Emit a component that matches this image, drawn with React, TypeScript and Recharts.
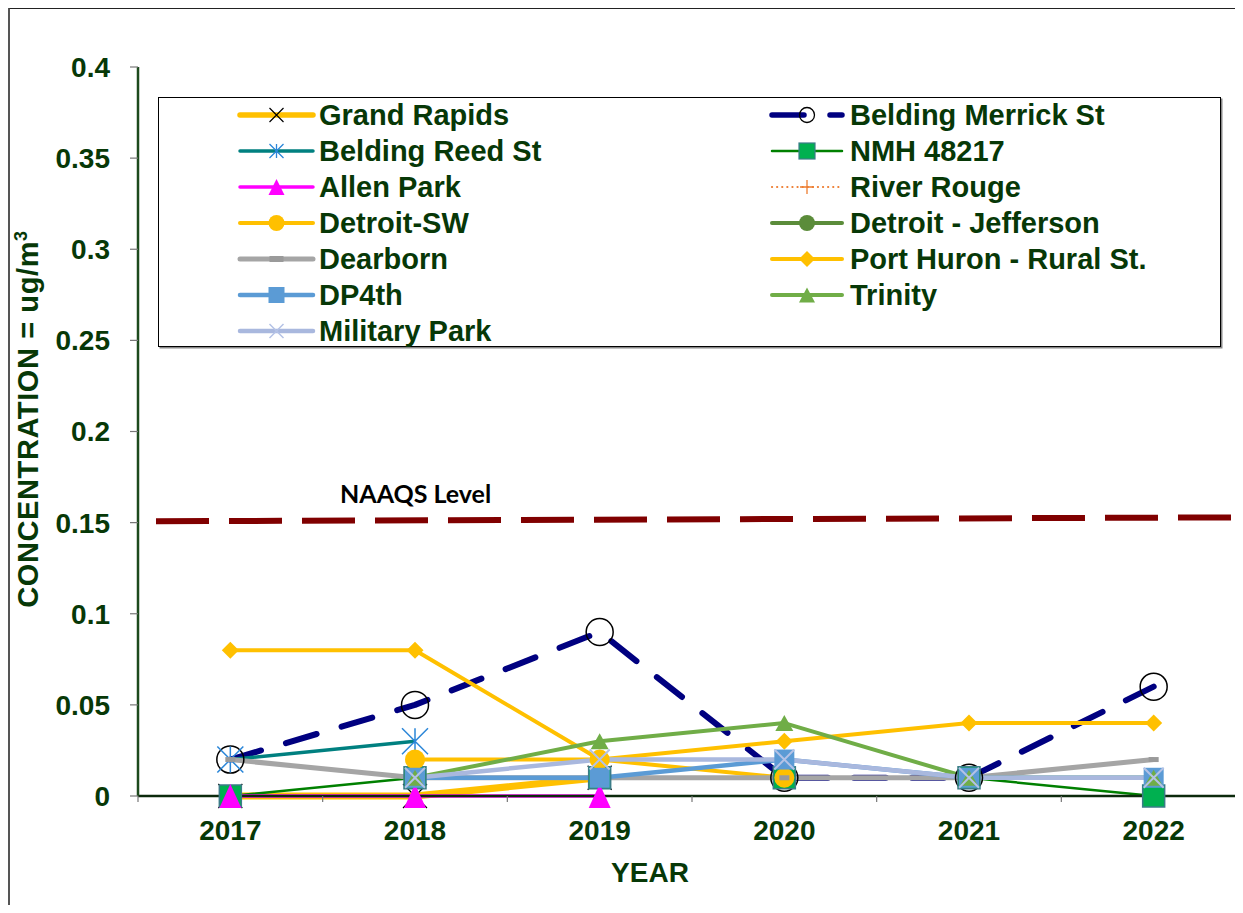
import React from 'react';
import { LineChart, Line, XAxis, YAxis, ReferenceLine, Legend, Label } from 'recharts';

// ---------- data ----------
const years = [2017, 2018, 2019, 2020, 2021, 2022];
const yTicks = [0, 0.05, 0.1, 0.15, 0.2, 0.25, 0.3, 0.35, 0.4];
const yTickLabels = ['0', '0.05', '0.1', '0.15', '0.2', '0.25', '0.3', '0.35', '0.4'];

const grandRapids = [0, 0, 0.01, null, null, null];
const beldingMerrick = [0.02, 0.05, 0.09, 0.01, 0.01, 0.06];
const beldingReed = [0.02, 0.03, null, null, null, null];
const nmh48217 = [0, 0.01, 0.01, 0.01, 0.01, 0];
const allenPark = [0, 0, 0, null, null, null];
const riverRouge = [null, null, null, 0.01, 0.01, 0.01];
const detroitSW = [null, 0.02, 0.02, 0.01, null, null];
const detroitJefferson = [null, null, null, null, 0.01, null];
const dearborn = [0.02, 0.01, 0.01, 0.01, 0.01, 0.02];
const portHuron = [0.08, 0.08, 0.02, 0.03, 0.04, 0.04];
const dp4th = [null, 0.01, 0.01, 0.02, 0.01, 0.01];
const trinity = [null, 0.01, 0.03, 0.04, 0.01, 0.01];
const militaryPark = [null, 0.01, 0.02, 0.02, 0.01, 0.01];

const naaqsLevel = [0.1507, 0.1529];
const naaqsLabel = 'NAAQS Level';

// ---------- layout constants ----------
const FONT = '"Liberation Sans", Arial, sans-serif';
const TEXT_GREEN = '#073807';
const CHART_W = 1250;
const CHART_H = 897;
const MARGIN = { top: 59, right: 12, left: 0, bottom: 9 };
const Y_AXIS_W = 130;
const X_AXIS_H = 100;
const PLOT_W = CHART_W - MARGIN.left - MARGIN.right - Y_AXIS_W;
const HALF_BAND = PLOT_W / years.length / 2;

type MarkerSpec = {
  kind: 'x' | 'asterisk' | 'plus' | 'square' | 'triangle' | 'circle' | 'diamond' | 'dash' | 'none';
  w: number;
  h?: number;
  fill?: string;
  stroke?: string;
  sw?: number;
};

function drawMarker(cx: number, cy: number, m: MarkerSpec, key?: any) {
  const s = m.w / 2;
  const hh = (m.h ?? m.w) / 2;
  switch (m.kind) {
    case 'x':
      return (
        <path key={key} d={`M${cx - s},${cy - s}L${cx + s},${cy + s}M${cx - s},${cy + s}L${cx + s},${cy - s}`}
          stroke={m.stroke} strokeWidth={m.sw ?? 1.2} fill="none" />
      );
    case 'asterisk':
      return (
        <path key={key} d={`M${cx - s},${cy - s}L${cx + s},${cy + s}M${cx - s},${cy + s}L${cx + s},${cy - s}M${cx},${cy - s}L${cx},${cy + s}`}
          stroke={m.stroke} strokeWidth={m.sw ?? 1.2} fill="none" />
      );
    case 'plus':
      return (
        <path key={key} d={`M${cx - s},${cy}L${cx + s},${cy}M${cx},${cy - s}L${cx},${cy + s}`}
          stroke={m.stroke} strokeWidth={m.sw ?? 1.2} fill="none" />
      );
    case 'square':
      return <rect key={key} x={cx - s} y={cy - s} width={m.w} height={m.w} fill={m.fill} stroke={m.stroke ?? 'none'} strokeWidth={m.sw ?? 0} />;
    case 'triangle':
      return (
        <path key={key} d={`M${cx},${cy - hh}L${cx + s},${cy + hh}L${cx - s},${cy + hh}Z`} fill={m.fill} stroke={m.stroke ?? 'none'} strokeWidth={m.sw ?? 0} />
      );
    case 'circle':
      return <circle key={key} cx={cx} cy={cy} r={s} fill={m.fill ?? 'none'} stroke={m.stroke ?? 'none'} strokeWidth={m.sw ?? 0} />;
    case 'diamond':
      return <path key={key} d={`M${cx},${cy - hh}L${cx + s},${cy}L${cx},${cy + hh}L${cx - s},${cy}Z`} fill={m.fill} />;
    case 'dash':
      return <rect key={key} x={cx - s} y={cy - hh} width={m.w} height={hh * 2} fill={m.fill} />;
    default:
      return <g key={key} />;
  }
}

type Series = {
  key: string;
  name: string;
  values: (number | null)[];
  color: string;
  width: number;
  dash?: string;
  cap?: 'round' | 'butt';
  marker: MarkerSpec;
  legendMarker: MarkerSpec;
};

const series: Series[] = [
  { key: 'gr', name: 'Grand Rapids', values: grandRapids, color: '#FFC000', width: 7, cap: 'round',
    marker: { kind: 'x', w: 24, stroke: '#000', sw: 1.2 }, legendMarker: { kind: 'x', w: 14, stroke: '#000', sw: 1.2 } },
  { key: 'bm', name: 'Belding Merrick St', values: beldingMerrick, color: '#000080', width: 6, dash: '32 26', cap: 'round',
    marker: { kind: 'circle', w: 27, stroke: '#000', sw: 1.5 }, legendMarker: { kind: 'circle', w: 15, stroke: '#000', sw: 1.3 } },
  { key: 'br', name: 'Belding Reed St', values: beldingReed, color: '#008080', width: 3.5,
    marker: { kind: 'asterisk', w: 26, stroke: '#2A86D8', sw: 1.5 }, legendMarker: { kind: 'asterisk', w: 14, stroke: '#2A86D8', sw: 1.3 } },
  { key: 'nmh', name: 'NMH 48217', values: nmh48217, color: '#008000', width: 2.5,
    marker: { kind: 'square', w: 22, fill: '#00B050', stroke: '#3B7C88', sw: 1.5 }, legendMarker: { kind: 'square', w: 16, fill: '#00B050', stroke: '#3B7C88', sw: 1.2 } },
  { key: 'ap', name: 'Allen Park', values: allenPark, color: '#FF00FF', width: 3.5,
    marker: { kind: 'triangle', w: 22, h: 24, fill: '#FF00FF' }, legendMarker: { kind: 'triangle', w: 16, h: 16, fill: '#FF00FF' } },
  { key: 'rr', name: 'River Rouge', values: riverRouge, color: '#ED7D31', width: 2.2, dash: '0.1 5', cap: 'round',
    marker: { kind: 'plus', w: 16, stroke: '#ED7D31', sw: 1.3 }, legendMarker: { kind: 'plus', w: 14, stroke: '#ED7D31', sw: 1.3 } },
  { key: 'dsw', name: 'Detroit-SW', values: detroitSW, color: '#FFC000', width: 4,
    marker: { kind: 'circle', w: 20, fill: '#FFC000' }, legendMarker: { kind: 'circle', w: 16, fill: '#FFC000' } },
  { key: 'dj', name: 'Detroit - Jefferson', values: detroitJefferson, color: '#5B8C3A', width: 4,
    marker: { kind: 'circle', w: 20, fill: '#5B8C3A' }, legendMarker: { kind: 'circle', w: 16, fill: '#5B8C3A' } },
  { key: 'dear', name: 'Dearborn', values: dearborn, color: '#A5A5A5', width: 5,
    marker: { kind: 'dash', w: 10, h: 5, fill: '#9A9A9A' }, legendMarker: { kind: 'dash', w: 14, h: 6, fill: '#9A9A9A' } },
  { key: 'ph', name: 'Port Huron - Rural St.', values: portHuron, color: '#FFC000', width: 4,
    marker: { kind: 'diamond', w: 17, fill: '#FFC000' }, legendMarker: { kind: 'diamond', w: 16, fill: '#FFC000' } },
  { key: 'dp4', name: 'DP4th', values: dp4th, color: '#5B9BD5', width: 4.5,
    marker: { kind: 'square', w: 20, fill: '#5B9BD5' }, legendMarker: { kind: 'square', w: 16, fill: '#5B9BD5' } },
  { key: 'tri', name: 'Trinity', values: trinity, color: '#70AD47', width: 4,
    marker: { kind: 'triangle', w: 18, h: 16, fill: '#70AD47' }, legendMarker: { kind: 'triangle', w: 16, h: 15, fill: '#70AD47' } },
  { key: 'mp', name: 'Military Park', values: militaryPark, color: '#A9B8DE', width: 4.5,
    marker: { kind: 'x', w: 20, stroke: '#B4C2E6', sw: 2 }, legendMarker: { kind: 'x', w: 14, stroke: '#B4C2E6', sw: 1.5 } },
];

const data = years.map((year, i) => {
  const row: Record<string, number | null> = { year };
  series.forEach((s) => { row[s.key] = s.values[i]; });
  return row;
});

// ---------- pieces ----------
function XTick(props: any) {
  const { x, y, payload } = props;
  return (
    <g>
      <line x1={x - HALF_BAND} x2={x - HALF_BAND} y1={y - 6} y2={y} stroke="#777" strokeWidth={1.2} />
      <text x={x} y={y + 38} textAnchor="middle" fill={TEXT_GREEN} fontSize={28} fontWeight="bold" fontFamily={FONT}>
        {payload.value}
      </text>
    </g>
  );
}

function YLabel() {
  const cx = 20;
  const cy = 411;
  return (
    <text x={cx} y={cy} transform={`rotate(-90 ${cx} ${cy})`} textAnchor="middle" dominantBaseline="central"
      fill={TEXT_GREEN} fontSize={29} fontWeight="bold" fontFamily={FONT} letterSpacing={0.6}>
      CONCENTRATION = ug/m<tspan dy={-7} fontSize={18}>3</tspan>
    </text>
  );
}

function XLabel() {
  return (
    <text x={642} y={874} textAnchor="middle" fill={TEXT_GREEN} fontSize={28} fontWeight="bold" fontFamily={FONT}>YEAR</text>
  );
}

function NaaqsText() {
  return (
    <text x={332} y={495} fill="#000" fontSize={25} fontWeight="bold" fontFamily="Lato, 'Open Sans', sans-serif">{naaqsLabel}</text>
  );
}

const LEG_W = 1063;
const LEG_H = 250;
const LEG_COLS = [
  { lineX1: 82, lineX2: 155, textX: 161 },
  { lineX1: 614, lineX2: 684, textX: 692 },
];
const LEG_ROW0 = 18;
const LEG_ROW_STEP = 36;

function LegendBox() {
  return (
    <div style={{ width: LEG_W, height: LEG_H, border: '1.3px solid #000', boxShadow: '1.5px 1.5px 0 #888', background: '#fff', boxSizing: 'border-box' }}>
      <svg width={LEG_W} height={LEG_H} style={{ display: 'block', marginTop: -1.3, marginLeft: -1.3 }}>
        {series.map((s, i) => {
          const col = LEG_COLS[i % 2];
          const cy = LEG_ROW0 + Math.floor(i / 2) * LEG_ROW_STEP;
          const mid = (col.lineX1 + col.lineX2) / 2;
          return (
            <g key={s.key}>
              <line x1={col.lineX1} x2={col.lineX2} y1={cy} y2={cy} stroke={s.color}
                strokeWidth={Math.min(s.width, 5.5)} strokeDasharray={s.dash} strokeLinecap={s.cap ?? 'round'} />
              {drawMarker(mid, cy, s.legendMarker)}
              <text x={col.textX} y={cy} dominantBaseline="central" fill={TEXT_GREEN} fontSize={29} fontWeight="bold" fontFamily={FONT}>
                {s.name}
              </text>
            </g>
          );
        })}
      </svg>
    </div>
  );
}

export default function App() {
  return (
    <div style={{ position: 'relative', width: 1235, height: 897, overflow: 'hidden', background: '#fff' }}>
      <div style={{ position: 'absolute', left: 0, top: -1, width: 1300, height: 1000, borderLeft: '2px solid #555', borderTop: '2px solid #222', boxSizing: 'border-box' }} />
      <LineChart width={CHART_W} height={CHART_H} data={data} margin={MARGIN} style={{ fontFamily: FONT }}>
        <XAxis xAxisId="top" orientation="top" dataKey="year" type="number" domain={[2016.5, 2022.5]} height={0}
          tick={false} tickLine={false} axisLine={{ stroke: '#1D4A1D', strokeWidth: 2.5 }} />
        <XAxis dataKey="year" type="number" domain={[2016.5, 2022.5]} ticks={years} height={X_AXIS_H}
          tick={<XTick />} tickLine={false} tickSize={6} tickMargin={0} interval={0}
          axisLine={{ stroke: '#0C2A0C', strokeWidth: 2.5 }}>
          <Label content={<XLabel />} />
        </XAxis>
        <YAxis type="number" domain={[0, 0.4]} ticks={yTicks} width={Y_AXIS_W} interval={0}
          tickFormatter={(v: number) => yTickLabels[yTicks.indexOf(v)] ?? String(v)}
          tick={{ fill: TEXT_GREEN, fontSize: 28, fontWeight: 'bold', fontFamily: FONT }}
          tickLine={{ stroke: '#777', strokeWidth: 1.2 }} tickSize={8} tickMargin={20}
          axisLine={{ stroke: '#1D4A1D', strokeWidth: 2.5 }}>
          <Label content={<YLabel />} />
        </YAxis>
        <ReferenceLine
          segment={[{ x: 2016.5, y: naaqsLevel[0] }, { x: 2022.5, y: naaqsLevel[1] }]}
          stroke="#800000" strokeWidth={6} strokeDasharray="53 20" strokeDashoffset={55}
          label={<NaaqsText />}
        />
        <Legend verticalAlign="middle" align="center" layout="horizontal"
          wrapperStyle={{ position: 'absolute', left: 150, top: 89, width: LEG_W, height: LEG_H }}
          content={() => <LegendBox />} />
        {series.map((s) => (
          <Line key={s.key} dataKey={s.key} name={s.name} stroke={s.color} strokeWidth={s.width}
            strokeDasharray={s.dash} strokeLinecap={s.cap ?? 'butt'} strokeLinejoin="round"
            isAnimationActive={false} connectNulls={false}
            activeDot={false}
            dot={(p: any) => (p.cy == null || p.value == null ? <g key={`${s.key}-${p.index}`} /> : drawMarker(p.cx, p.cy, s.marker, `${s.key}-${p.index}`))}
          />
        ))}
      </LineChart>
    </div>
  );
}
